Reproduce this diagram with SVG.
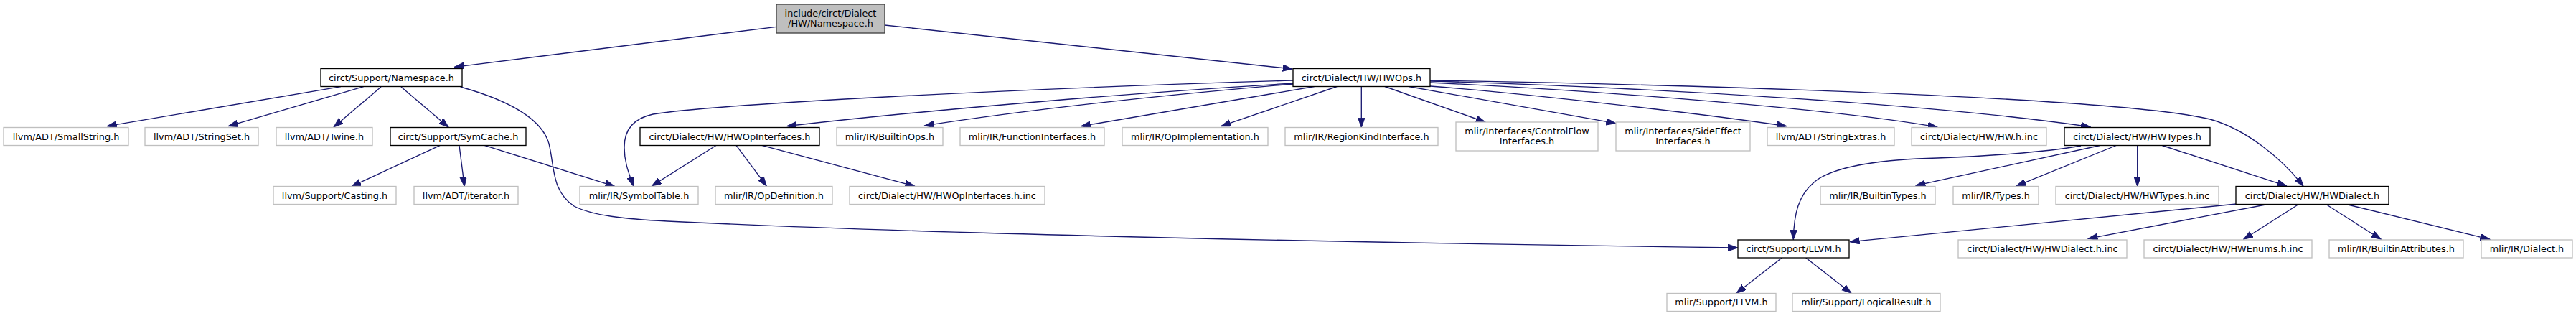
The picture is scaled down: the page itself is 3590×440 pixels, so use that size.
<svg xmlns="http://www.w3.org/2000/svg" width="3590" height="440" viewBox="0 0 3590 440">
<style>
.n rect{fill:#fff;stroke:#bfbfbf;stroke-width:1.33}
.d rect{fill:#fff;stroke:#000;stroke-width:1.33}
.r rect{fill:#bfbfbf;stroke:#404040;stroke-width:1.33}
text{font-family:"DejaVu Sans","Liberation Sans",sans-serif;font-size:12.85px;fill:#000;text-anchor:middle}
#edges path{fill:none;stroke:#191970;stroke-width:1.33;marker-end:url(#arr)}
</style>
<defs>
<marker id="arr" markerUnits="userSpaceOnUse" markerWidth="14" markerHeight="10" refX="13.3" refY="4.67" orient="auto">
<path d="M0,0 L13.3,4.67 L0,9.33 z" fill="#191970" stroke="#191970" stroke-width="1"/>
</marker>
</defs>
<rect width="3590" height="440" fill="#fff"/>
<g id="edges">
<path d="M1082,37.3 L633.3,93.3"/>
<path d="M1233,35 L1801,96"/>
<path d="M475,120.7 L149.3,175.7"/>
<path d="M506.7,120.7 L318.3,175.7"/>
<path d="M531,121 L465,177"/>
<path d="M559,121 L625,177"/>
<path d="M641.7,121 C710,140 755,165 765,200 C773,232 768,265 800,287 C825,300 870,305 930,308 C1300,326 1900,338 2421.7,345"/>
<path d="M613.3,202.3 L490,259.5"/>
<path d="M640,202.3 L647.3,259.5"/>
<path d="M675,202.3 L856.7,259.5"/>
<path d="M1802,112 C1400,124 1000,145 910,159 C882,165 870,182 870,205 C870,228 878,245 883,259.5"/>
<path d="M1802,116 C1600,128 1300,152 1096.7,175.7"/>
<path d="M1802,117 C1650,130 1450,150 1288.3,175"/>
<path d="M1831.7,120.5 L1506.7,175.7"/>
<path d="M1863.3,120.5 L1701.7,175.7"/>
<path d="M1897.3,120.5 L1897.3,177.5"/>
<path d="M1930,120.5 L2070,170"/>
<path d="M1963.3,120.5 L2251.7,171.7"/>
<path d="M1993,120 C2100,128 2350,155 2490,175.7"/>
<path d="M1993,115 C2200,125 2550,150 2700,177"/>
<path d="M1993,113 C2300,122 2700,145 2913.3,176.7"/>
<path d="M1993,112 C2350,118 2950,135 3080,166 C3130,180 3180,220 3210,259.3"/>
<path d="M998.3,202.3 L908.3,259"/>
<path d="M1026,202.3 L1068.3,259"/>
<path d="M1061.7,202.3 L1275,259.3"/>
<path d="M2900,203 C2850,212 2760,218 2700,220 C2620,222 2560,232 2533,250 C2505,270 2500,300 2499.3,333.5"/>
<path d="M2926.7,202.5 L2670,258.3"/>
<path d="M2949.3,202.5 L2810,259"/>
<path d="M2978.7,202.5 L2978.7,259.5"/>
<path d="M3013.3,202.5 L3186.7,259"/>
<path d="M3116.7,284 L2578.3,336.7"/>
<path d="M3160,284.5 L2910,332.3"/>
<path d="M3203.3,284.5 L3126.7,333.3"/>
<path d="M3241.7,284.5 L3318.3,333.3"/>
<path d="M3270,284.5 L3470,333.3"/>
<path d="M2483.3,359 L2420,408.3"/>
<path d="M2516.7,359 L2580,408.3"/>
</g>
<g id="root" class="r"><rect x="1082" y="6" width="151" height="40"/><text x="1157.5" y="22.5">include/circt/Dialect</text><text x="1157.5" y="37">/HW/Namespace.h</text></g>
<g id="namespace" class="d"><rect x="447" y="95.5" width="197" height="25"/><text x="545.5" y="112.5">circt/Support/Namespace.h</text></g>
<g id="hwops" class="d"><rect x="1802" y="95.5" width="191" height="25"/><text x="1897.5" y="112.5">circt/Dialect/HW/HWOps.h</text></g>
<g id="smallstring" class="n"><rect x="5" y="177.5" width="174" height="25"/><text x="92" y="194.5">llvm/ADT/SmallString.h</text></g>
<g id="stringset" class="n"><rect x="202" y="177.5" width="158" height="25"/><text x="281" y="194.5">llvm/ADT/StringSet.h</text></g>
<g id="twine" class="n"><rect x="385" y="177.5" width="134" height="25"/><text x="452" y="194.5">llvm/ADT/Twine.h</text></g>
<g id="symcache" class="d"><rect x="544" y="177.5" width="189" height="25"/><text x="638.5" y="194.5">circt/Support/SymCache.h</text></g>
<g id="hwopinterfaces" class="d"><rect x="892" y="177.5" width="250" height="25"/><text x="1017" y="194.5">circt/Dialect/HW/HWOpInterfaces.h</text></g>
<g id="builtinops" class="n"><rect x="1166" y="177.5" width="148" height="25"/><text x="1240" y="194.5">mlir/IR/BuiltinOps.h</text></g>
<g id="functioninterfaces" class="n"><rect x="1338" y="177.5" width="201" height="25"/><text x="1438.5" y="194.5">mlir/IR/FunctionInterfaces.h</text></g>
<g id="opimplementation" class="n"><rect x="1564" y="177.5" width="203" height="25"/><text x="1665.5" y="194.5">mlir/IR/OpImplementation.h</text></g>
<g id="regionkind" class="n"><rect x="1791" y="177.5" width="213" height="25"/><text x="1897.5" y="194.5">mlir/IR/RegionKindInterface.h</text></g>
<g id="controlflow" class="n"><rect x="2029" y="170" width="198" height="40"/><text x="2128" y="186.7">mlir/Interfaces/ControlFlow</text><text x="2128" y="201.3">Interfaces.h</text></g>
<g id="sideeffect" class="n"><rect x="2252" y="170" width="187" height="40"/><text x="2345.5" y="186.7">mlir/Interfaces/SideEffect</text><text x="2345.5" y="201.3">Interfaces.h</text></g>
<g id="stringextras" class="n"><rect x="2463" y="177.5" width="177" height="25"/><text x="2551.5" y="194.5">llvm/ADT/StringExtras.h</text></g>
<g id="hwhinc" class="n"><rect x="2664" y="177.5" width="188" height="25"/><text x="2758" y="194.5">circt/Dialect/HW/HW.h.inc</text></g>
<g id="hwtypes" class="d"><rect x="2877" y="177.5" width="203" height="25"/><text x="2978.5" y="194.5">circt/Dialect/HW/HWTypes.h</text></g>
<g id="casting" class="n"><rect x="381" y="259.5" width="171" height="25"/><text x="466.5" y="276.5">llvm/Support/Casting.h</text></g>
<g id="iterator" class="n"><rect x="577" y="259.5" width="145" height="25"/><text x="649.5" y="276.5">llvm/ADT/iterator.h</text></g>
<g id="symboltable" class="n"><rect x="808" y="259.5" width="165" height="25"/><text x="890.5" y="276.5">mlir/IR/SymbolTable.h</text></g>
<g id="opdefinition" class="n"><rect x="997" y="259.5" width="163" height="25"/><text x="1078.5" y="276.5">mlir/IR/OpDefinition.h</text></g>
<g id="hwopinterfacesinc" class="n"><rect x="1184" y="259.5" width="272" height="25"/><text x="1320" y="276.5">circt/Dialect/HW/HWOpInterfaces.h.inc</text></g>
<g id="builtintypes" class="n"><rect x="2537" y="259.5" width="160" height="25"/><text x="2617" y="276.5">mlir/IR/BuiltinTypes.h</text></g>
<g id="types" class="n"><rect x="2722" y="259.5" width="119" height="25"/><text x="2781.5" y="276.5">mlir/IR/Types.h</text></g>
<g id="hwtypesinc" class="n"><rect x="2865" y="259.5" width="227" height="25"/><text x="2978.5" y="276.5">circt/Dialect/HW/HWTypes.h.inc</text></g>
<g id="hwdialect" class="d"><rect x="3116" y="259.5" width="213" height="25"/><text x="3222.5" y="276.5">circt/Dialect/HW/HWDialect.h</text></g>
<g id="circtllvm" class="d"><rect x="2422" y="334" width="155" height="25"/><text x="2499.5" y="351">circt/Support/LLVM.h</text></g>
<g id="hwdialectinc" class="n"><rect x="2729" y="334" width="235" height="25"/><text x="2846.5" y="351">circt/Dialect/HW/HWDialect.h.inc</text></g>
<g id="hwenumsinc" class="n"><rect x="2988" y="334" width="234" height="25"/><text x="3105" y="351">circt/Dialect/HW/HWEnums.h.inc</text></g>
<g id="builtinattributes" class="n"><rect x="3246" y="334" width="187" height="25"/><text x="3339.5" y="351">mlir/IR/BuiltinAttributes.h</text></g>
<g id="dialect" class="n"><rect x="3458" y="334" width="127" height="25"/><text x="3521.5" y="351">mlir/IR/Dialect.h</text></g>
<g id="mlirllvm" class="n"><rect x="2323" y="408.5" width="152" height="25"/><text x="2399" y="425">mlir/Support/LLVM.h</text></g>
<g id="logicalresult" class="n"><rect x="2498" y="408.5" width="206" height="25"/><text x="2601" y="425">mlir/Support/LogicalResult.h</text></g>
</svg>
